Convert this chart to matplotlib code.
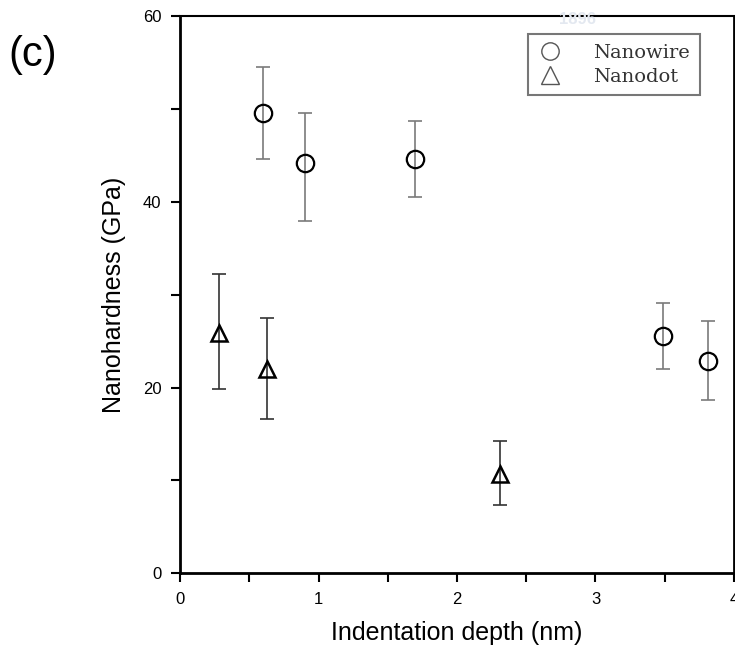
import matplotlib
matplotlib.use("Agg")
import matplotlib.pyplot as plt
from matplotlib.ticker import MultipleLocator

# Data
wire_x = [0.60, 0.90, 1.70, 3.49, 3.81]
wire_y = [49.6, 44.2, 44.6, 25.5, 22.9]
wire_hi = [54.5, 49.5, 48.7, 29.1, 27.2]
wire_lo = [44.6, 37.9, 40.5, 22.0, 18.7]

dot_x = [0.28, 0.63, 2.31]
dot_y = [25.9, 22.0, 10.7]
dot_hi = [32.2, 27.5, 14.2]
dot_lo = [19.8, 16.6, 7.35]

x_ticks = [0, 1, 2, 3, 4]
y_ticks = [0, 20, 40, 60]

plt.rcParams['font.family'] = ['Liberation Sans', 'DejaVu Sans']

fig = plt.figure(figsize=(7.35, 6.51), dpi=100)
ax = fig.add_axes([180/735, 1 - 573.3/651, (734-180)/735, (573.3-15.9)/651])

# faint watermark
fig.text(577/735, 1 - 20/651, "1896", color='#e3e8f0', fontsize=12,
         fontweight='bold', ha='center', va='center', zorder=0)

wire_err = [[y - lo for y, lo in zip(wire_y, wire_lo)],
            [hi - y for y, hi in zip(wire_y, wire_hi)]]
dot_err = [[y - lo for y, lo in zip(dot_y, dot_lo)],
           [hi - y for y, hi in zip(dot_y, dot_hi)]]

ax.errorbar(wire_x, wire_y, yerr=wire_err, fmt='none', ecolor='#7a7a7a',
            elinewidth=1.2, capsize=5, capthick=1.2, zorder=2)
ax.errorbar(dot_x, dot_y, yerr=dot_err, fmt='none', ecolor='#333333',
            elinewidth=1.2, capsize=5, capthick=1.2, zorder=2)

ax.plot(wire_x, wire_y, linestyle='none', marker='o', markersize=12.5,
        markerfacecolor='none', markeredgecolor='black', markeredgewidth=1.6,
        zorder=3)
ax.plot(dot_x, dot_y, linestyle='none', marker='^', markersize=12,
        markerfacecolor='none', markeredgecolor='black', markeredgewidth=1.8,
        zorder=3)

# legend proxies (markers only)
h1, = ax.plot([], [], linestyle='none', marker='o', markersize=12.5,
              markerfacecolor='none', markeredgecolor='#555555',
              markeredgewidth=1.0, label='Nanowire')
h2, = ax.plot([], [], linestyle='none', marker='^', markersize=12.5,
              markerfacecolor='none', markeredgecolor='#555555',
              markeredgewidth=1.0, label='Nanodot')
leg = ax.legend(handles=[h1, h2], loc='upper right',
                bbox_to_anchor=((700-180)/554, (573.3-34)/557.4),
                borderaxespad=0, frameon=True, fancybox=False,
                prop={'family': 'DejaVu Serif', 'size': 14},
                handlelength=1.2, handletextpad=1.65, labelspacing=0.3,
                borderpad=0.5)
leg.get_frame().set_edgecolor('#555555')
leg.get_frame().set_linewidth(1.5)
for t in leg.get_texts():
    t.set_color('#333333')

ax.set_xlim(0, 4)
ax.set_ylim(0, 60)
ax.set_xticks(x_ticks)
ax.set_yticks(y_ticks)
ax.xaxis.set_minor_locator(MultipleLocator(0.5))
ax.yaxis.set_minor_locator(MultipleLocator(10))
ax.tick_params(which='both', direction='out', length=6.5, width=1.5,
               labelsize=12, pad=7)

for side in ['left', 'bottom', 'right']:
    ax.spines[side].set_linewidth(2)
ax.spines['top'].set_linewidth(1.5)

ax.set_xlabel('Indentation depth (nm)', fontsize=18, labelpad=10)
ax.set_ylabel('Nanohardness (GPa)', fontsize=18, labelpad=12)

fig.text(8/735, 1 - 55/651, '(c)', fontsize=30, ha='left', va='center')

fig.savefig('out.png', dpi=100)
